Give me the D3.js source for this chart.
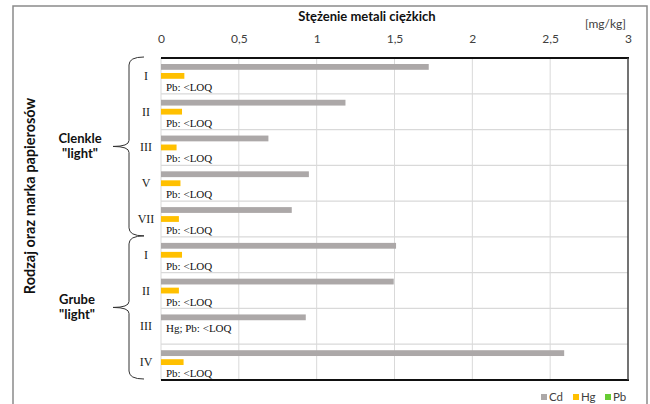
<!DOCTYPE html>
<html>
<head>
<meta charset="utf-8">
<script src="https://cdn.jsdelivr.net/npm/d3@7"></script>
<style>
  body { margin: 0; background: #fff; }
  svg { display: block; }
</style>
</head>
<body>
<script>
const w = 650;
const h = 404;

// data
const categories = ["I", "II", "III", "V", "VII", "I", "II", "III", "IV"];
const series = ["Cd", "Hg", "Pb"];
const cd = [1.72, 1.185, 0.69, 0.95, 0.84, 1.51, 1.495, 0.93, 2.59];
const hg = [0.15, 0.135, 0.10, 0.125, 0.115, 0.135, 0.115, 0, 0.145];
const pb = [0, 0, 0, 0, 0, 0, 0, 0, 0];
const notes = ["Pb: <LOQ", "Pb: <LOQ", "Pb: <LOQ", "Pb: <LOQ", "Pb: <LOQ",
               "Pb: <LOQ", "Pb: <LOQ", "Hg; Pb: <LOQ", "Pb: <LOQ"];
const noteAt = ["Pb", "Pb", "Pb", "Pb", "Pb", "Pb", "Pb", "Hg", "Pb"];
const groups = [
  { name: ["Clenkle", "\"light\""], from: 0, to: 4, cx: 80 },
  { name: ["Grube", "\"light\""], from: 5, to: 8, cx: 77 },
];
const ticks = [0, 0.5, 1, 1.5, 2, 2.5, 3];
const colors = { Cd: "#aca8a8", Hg: "#ffc000", Pb: "#66cc33" };

const rows = categories.map((c, i) => ({ i, cat: c, Cd: cd[i], Hg: hg[i], Pb: pb[i] }));

const pLeft = 161, pRight = 628, pTop = 58, pBottom = 380;

const svg = d3.select("body").append("svg").attr("width", w).attr("height", h);

// outer frame
svg.append("path")
  .attr("d", `M13,${h} V6 H647 V${h}`)
  .attr("fill", "none")
  .attr("stroke", "#8a8a8a")
  .attr("stroke-width", 1.5);

const x = d3.scaleLinear().domain([0, 3]).range([pLeft, pRight]);
const y = d3.scaleBand().domain(d3.range(categories.length)).range([pTop, pBottom]);
const inner = d3.scaleBand().domain(series).range([0, y.bandwidth()])
  .paddingInner(0.355).paddingOuter(0.667);

// grid
svg.append("g").selectAll("line")
  .data(ticks.slice(1, -1))
  .join("line")
  .attr("x1", d => x(d)).attr("x2", d => x(d))
  .attr("y1", pTop).attr("y2", pBottom)
  .attr("stroke", "#d9d9d9").attr("stroke-width", 1);
svg.append("g").selectAll("line")
  .data(d3.range(1, categories.length))
  .join("line")
  .attr("x1", pLeft).attr("x2", pRight)
  .attr("y1", d => y(d)).attr("y2", d => y(d))
  .attr("stroke", "#d9d9d9").attr("stroke-width", 1.2);
svg.append("line")
  .attr("x1", pLeft).attr("x2", pLeft).attr("y1", pTop).attr("y2", pBottom)
  .attr("stroke", "#d9d9d9");

// top axis
const xAxis = d3.axisTop(x).tickValues(ticks).tickSize(0)
  .tickFormat(d => String(d).replace(".", ","));
const gx = svg.append("g").attr("transform", "translate(0,46)").call(xAxis);
gx.select(".domain").remove();
gx.selectAll("text")
  .attr("font-family", "Lato, sans-serif").attr("font-size", 12)
  .attr("fill", "#404040");

// plot border
svg.append("line").attr("x1", pLeft).attr("x2", pRight + 1).attr("y1", pTop).attr("y2", pTop)
  .attr("stroke", "#111").attr("stroke-width", 2);
svg.append("line").attr("x1", pLeft).attr("x2", pRight + 1).attr("y1", pBottom).attr("y2", pBottom)
  .attr("stroke", "#111").attr("stroke-width", 2);
svg.append("line").attr("x1", pRight).attr("x2", pRight).attr("y1", pTop).attr("y2", pBottom)
  .attr("stroke", "#444").attr("stroke-width", 1.5);

// bars
const cat = svg.append("g").selectAll("g")
  .data(rows)
  .join("g")
  .attr("transform", d => `translate(0,${y(d.i)})`);
cat.selectAll("rect")
  .data(d => series.map(s => ({ s, v: d[s] })))
  .join("rect")
  .attr("x", x(0))
  .attr("y", d => inner(d.s))
  .attr("width", d => x(d.v) - x(0))
  .attr("height", inner.bandwidth())
  .attr("fill", d => colors[d.s]);

// notes
svg.append("g").selectAll("text")
  .data(rows)
  .join("text")
  .attr("x", x(0) + 5)
  .attr("y", d => y(d.i) + inner(noteAt[d.i]) + inner.bandwidth() / 2 + 6)
  .attr("font-family", "'Liberation Serif', serif").attr("font-size", 11)
  .attr("fill", "#111")
  .text(d => notes[d.i]);

// category labels
svg.append("g").selectAll("text")
  .data(rows)
  .join("text")
  .attr("x", 146)
  .attr("y", d => y(d.i) + y.bandwidth() / 2 + 4)
  .attr("text-anchor", "middle")
  .attr("font-family", "'Liberation Serif', serif").attr("font-size", 12)
  .attr("fill", "#222")
  .text(d => d.cat);

// braces
groups.forEach(g => {
  const y0 = y(g.from) - 1, y1 = y(g.to) + y.bandwidth() - 1, ym = (y0 + y1) / 2;
  const bx = 129;
  svg.append("path")
    .attr("d", `M144,${y0} Q${bx},${y0} ${bx},${y0 + 8} V${ym - 6} Q${bx},${ym} ${bx - 16},${ym}`
      + ` Q${bx},${ym} ${bx},${ym + 6} V${y1 - 8} Q${bx},${y1} 144,${y1}`)
    .attr("fill", "none").attr("stroke", "#333").attr("stroke-width", 1);
  g.name.forEach((line, k) => {
    svg.append("text")
      .attr("x", g.cx).attr("y", ym - 3 + k * 15)
      .attr("text-anchor", "middle")
      .attr("font-family", "Lato, sans-serif").attr("font-size", 13).attr("font-weight", "bold")
      .attr("fill", "#111")
      .text(line);
  });
});

// titles
svg.append("text")
  .attr("x", 367).attr("y", 21)
  .attr("text-anchor", "middle")
  .attr("font-family", "Lato, sans-serif").attr("font-size", 13).attr("font-weight", "bold")
  .attr("fill", "#111")
  .text("Stężenie metali ciężkich");
svg.append("text")
  .attr("x", 626).attr("y", 28)
  .attr("text-anchor", "end")
  .attr("font-family", "Lato, sans-serif").attr("font-size", 12)
  .attr("fill", "#404040")
  .text("[mg/kg]");
svg.append("text")
  .attr("transform", "translate(35,196) rotate(-90)")
  .attr("text-anchor", "middle")
  .attr("font-family", "Lato, sans-serif").attr("font-size", 14.5).attr("font-weight", "bold")
  .attr("fill", "#111")
  .text("Rodzaj oraz marka papierosów");

// legend
const leg = svg.append("g").selectAll("g")
  .data(series)
  .join("g")
  .attr("transform", (d, i) => `translate(${541 + i * 32},397)`);
leg.append("rect").attr("x", 0).attr("y", -3).attr("width", 6).attr("height", 6)
  .attr("fill", d => colors[d]);
leg.append("text").attr("x", 8).attr("y", 4)
  .attr("font-family", "Lato, sans-serif").attr("font-size", 11.5)
  .attr("fill", "#404040")
  .text(d => d);
</script>
</body>
</html>
